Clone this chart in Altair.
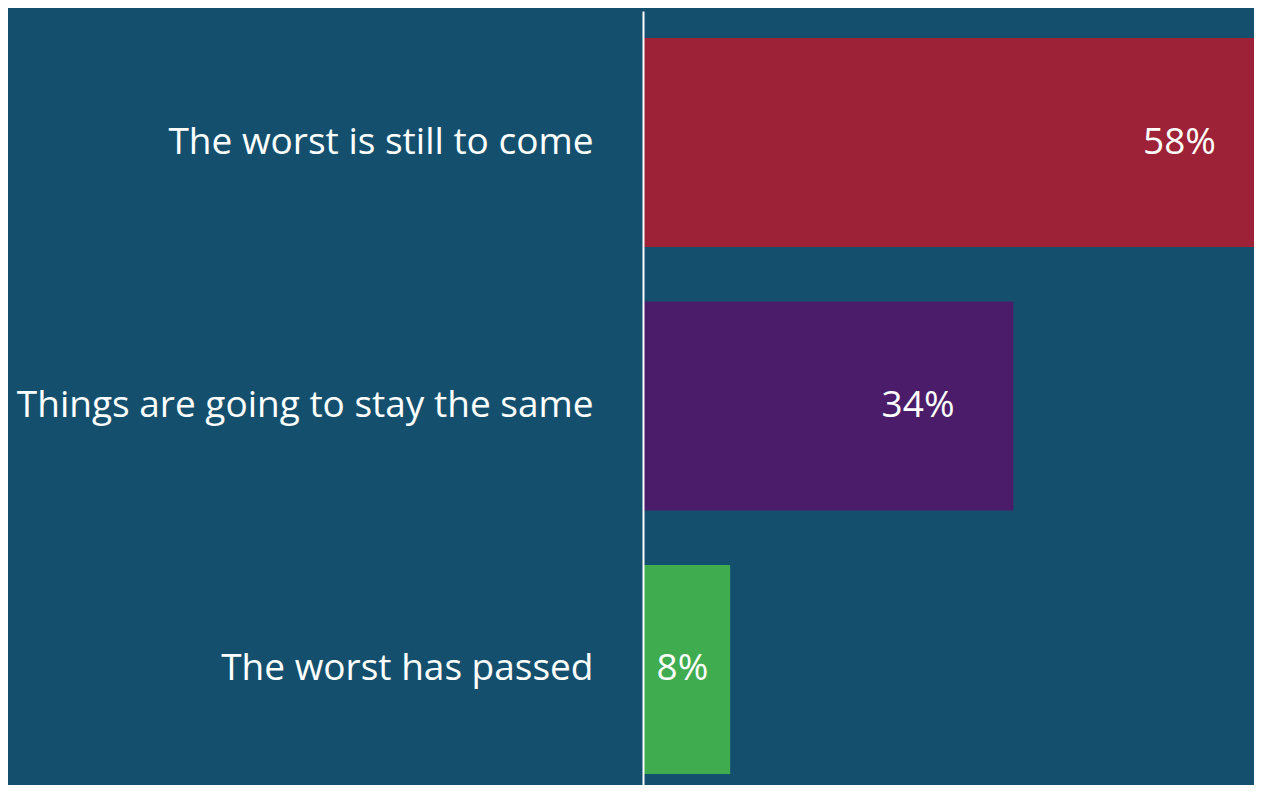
import altair as alt
import pandas as pd

categories = ["The worst is still to come", "Things are going to stay the same", "The worst has passed"]
values = [58, 34, 8]
labels = ["58%", "34%", "8%"]
colors = ["#9E2237", "#4A1C6A", "#40AC50"]

df = pd.DataFrame({"category": categories, "value": values, "label": labels})

FONT = "Open Sans"
BG = "#14506E"

y_enc = alt.Y(
    "category:N",
    sort=categories,
    scale=alt.Scale(paddingInner=0.207, paddingOuter=0.0723, align=0.71),
    axis=alt.Axis(
        title=None, ticks=False, domain=True, domainColor="white", domainWidth=2,
        labelColor="white", labelFont=FONT, labelFontSize=37, labelPadding=50,
        labelLimit=800, zindex=1,
    ),
)
x_enc = alt.X(
    "value:Q",
    scale=alt.Scale(domain=[0, 56.1], nice=False, zero=True),
    axis=None,
)

bars = alt.Chart(df).mark_bar(clip=True).encode(
    y=y_enc,
    x=x_enc,
    color=alt.Color("category:N", scale=alt.Scale(domain=categories, range=colors), legend=None),
)

text = alt.Chart(df).transform_calculate(
    lx="max(datum.value - 5.4, 6.0)"
).mark_text(
    align="right", baseline="middle", color="white", font=FONT, fontSize=37
).encode(
    y=alt.Y("category:N", sort=categories),
    x=alt.X("lx:Q"),
    text="label:N",
)

chart = alt.layer(bars, text).properties(
    width=611,
    height=774,
    autosize=alt.AutoSizeParams(type="none"),
    padding={"left": 635, "top": 3, "right": 0, "bottom": 0},
    background=BG,
).configure_view(stroke=None)

chart.save("out.html", embed_options={"renderer": "svg", "actions": False})
